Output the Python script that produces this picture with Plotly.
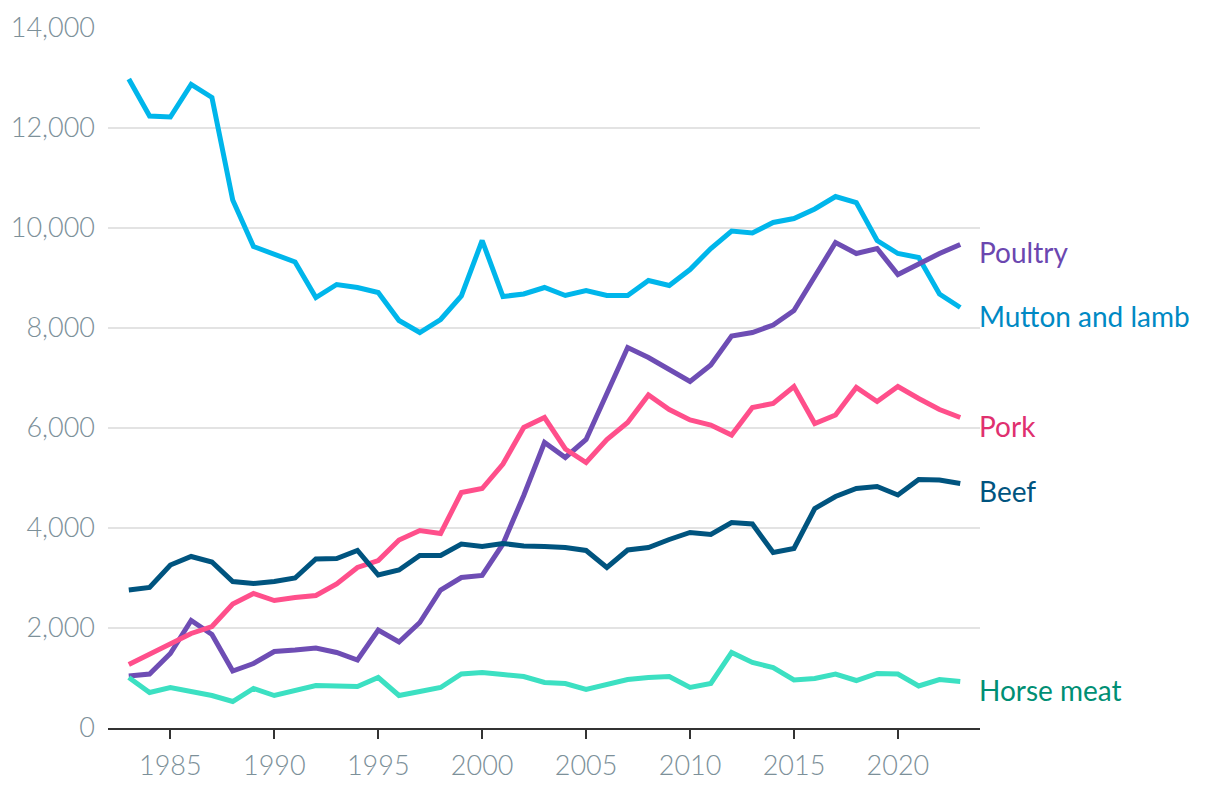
import plotly.graph_objects as go

years = list(range(1983, 2024))

mutton = [12980, 12240, 12220, 12870, 12610, 10560, 9630, 9470, 9320, 8610,
          8870, 8810, 8710, 8150, 7910, 8170, 8640, 9750, 8630, 8680,
          8810, 8650, 8750, 8650, 8650, 8950, 8850, 9170, 9590, 9940,
          9900, 10110, 10190, 10380, 10630, 10510, 9750, 9490, 9410, 8680, 8410]

poultry = [1040, 1080, 1490, 2150, 1870, 1140, 1290, 1530, 1560, 1600,
           1510, 1360, 1960, 1720, 2110, 2760, 3010, 3050, 3680, 4650,
           5710, 5410, 5770, 6700, 7610, 7410, 7160, 6930, 7260, 7840,
           7910, 8060, 8350, 9030, 9710, 9490, 9590, 9070, 9290, 9490, 9670]

pork = [1270, 1480, 1670, 1890, 2030, 2480, 2690, 2550, 2610, 2650,
        2880, 3210, 3350, 3760, 3950, 3890, 4710, 4790, 5280, 6010,
        6210, 5580, 5310, 5770, 6110, 6660, 6370, 6160, 6060, 5860,
        6410, 6490, 6830, 6090, 6260, 6810, 6530, 6830, 6590, 6370, 6210]

beef = [2760, 2810, 3260, 3430, 3320, 2930, 2890, 2930, 3000, 3380,
        3390, 3550, 3060, 3160, 3450, 3450, 3680, 3630, 3690, 3640,
        3630, 3610, 3550, 3210, 3560, 3610, 3770, 3910, 3870, 4110,
        4080, 3510, 3590, 4390, 4630, 4790, 4830, 4660, 4970, 4960, 4890]

horse = [1010, 710, 810, 730, 650, 530, 790, 650, 750, 850,
         840, 830, 1010, 650, 730, 810, 1080, 1110, 1070, 1030,
         910, 890, 770, 870, 970, 1010, 1030, 810, 890, 1510,
         1310, 1210, 960, 990, 1080, 950, 1090, 1080, 840, 970, 930]

series = [
    ("Mutton and lamb", mutton, "#00B6EB", "#0089C4", 8240),
    ("Poultry", poultry, "#6E4DB4", "#6B47B0", 9520),
    ("Pork", pork, "#FF4F8B", "#E0306F", 6040),
    ("Beef", beef, "#00547F", "#00547F", 4740),
    ("Horse meat", horse, "#3CE0C2", "#008F74", 760),
]

fig = go.Figure()
annotations = []
for name, vals, lc, tc, label_y in series:
    fig.add_trace(go.Scatter(
        x=years, y=vals, mode="lines", name=name,
        line=dict(color=lc, width=5), hoverinfo="x+y+name"))
    annotations.append(dict(
        x=years[-1], y=label_y, xref="x", yref="y", text=name,
        showarrow=False, xanchor="left", yanchor="middle", xshift=17,
        font=dict(family="Lato", size=28, color=tc)))

tick_font = dict(family="Lato", size=27, color="#7C9099", weight=300)

fig.update_layout(
    width=1220, height=794,
    margin=dict(l=100, r=248, t=20, b=74, autoexpand=False),
    paper_bgcolor="white", plot_bgcolor="white",
    showlegend=False,
    annotations=annotations,
    xaxis=dict(
        range=[1982.0, 2023.95], tickvals=list(range(1985, 2021, 5)),
        showgrid=False, zeroline=False, automargin=False,
        showline=True, linecolor="#333333", linewidth=2,
        ticks="outside", ticklen=9, tickwidth=2, tickcolor="#333333",
        ticklabelstandoff=4, tickfont=tick_font),
    yaxis=dict(
        range=[0, 14000], tickvals=list(range(0, 14001, 2000)),
        tickformat=",d", showgrid=True, gridcolor="#E3E3E3", gridwidth=1.5,
        zeroline=False, showline=False, ticks="", ticklabelstandoff=12,
        automargin=False, tickfont=tick_font),
)

fig.write_html("out.html")
